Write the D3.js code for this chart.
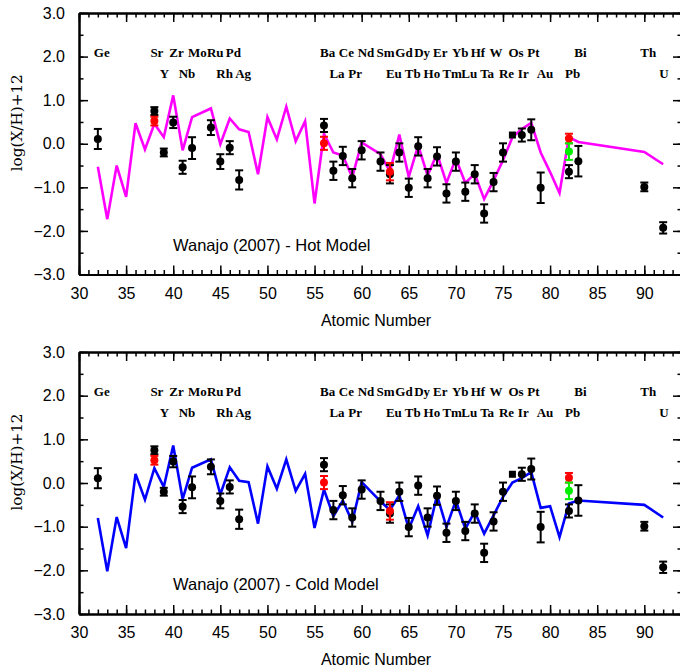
<!DOCTYPE html>
<html><head><meta charset="utf-8">
<script src="https://cdn.jsdelivr.net/npm/d3@7/dist/d3.min.js"></script>
<style>
body{margin:0;background:#fff;}
svg{display:block;}
.tick line{stroke:#000;stroke-width:1.5;}
.domain{stroke:#000;stroke-width:2;}
</style>
</head><body>
<svg id="chart" width="680" height="671"></svg>
<script>
// ---- Data ----
// element labels
const row1Z = [32,38,40,42,44,46,56,58,60,62,64,66,68,70,72,74,76,78,83,90];
const row1Sym = ["Ge","Sr","Zr","Mo","Ru","Pd","Ba","Ce","Nd","Sm","Gd","Dy","Er","Yb","Hf","W","Os","Pt","Bi","Th"];
const row2Z = [39,41,45,47,57,59,63,65,67,69,71,73,75,77,79,82,92];
const row2Sym = ["Y","Nb","Rh","Ag","La","Pr","Eu","Tb","Ho","Tm","Lu","Ta","Re","Ir","Au","Pb","U"];

// observed abundances (black)
const obsZ   = [32,38,39,40,41,42,44,45,46,47,56,57,58,59,60,62,63,64,65,66,67,68,69,70,71,72,73,74,75,77,78,79,82,83,90,92];
const obsVal = [0.11,0.75,-0.20,0.49,-0.54,-0.10,0.37,-0.41,-0.09,-0.83,0.42,-0.62,-0.28,-0.79,-0.15,-0.41,-0.70,-0.20,-1.01,-0.06,-0.79,-0.29,-1.14,-0.41,-1.10,-0.70,-1.60,-0.88,-0.20,0.20,0.32,-1.01,-0.64,-0.40,-0.99,-1.93];
const obsErr = [0.23,0.09,0.09,0.13,0.15,0.25,0.17,0.17,0.15,0.22,0.15,0.21,0.21,0.21,0.21,0.21,0.21,0.21,0.21,0.21,0.21,0.21,0.21,0.21,0.21,0.21,0.21,0.21,0.21,0.15,0.24,0.35,0.15,0.35,0.1,0.13];
// alternative determinations (red)
const redZ   = [38,56,63,82];
const redVal = [0.52,0.01,-0.64,0.12];
const redErr = [0.1,0.15,0.2,0.11];
// green
const greenZ   = [82];
const greenVal = [-0.18];
const greenErr = [0.19];
// square marker (Os)
const sqZ   = [76];
const sqVal = [0.20];

// Wanajo (2007) models
const hotZ   = [32,33,34,35,36,37,38,39,40,41,42,44,45,46,47,48,49,50,51,52,53,54,55,56,57,58,59,60,62,63,64,65,66,67,68,69,70,71,72,73,74,75,76,77,78,79,80,81,82,83,90,92];
const hotVal = [-0.53,-1.73,-0.50,-1.22,0.47,-0.13,0.46,0.15,1.11,-0.15,0.61,0.81,-0.01,0.58,0.33,0.27,-0.70,0.61,0.10,0.85,0.06,0.52,-1.37,0.23,-0.20,-0.27,-0.77,0.03,-0.24,-0.64,0.21,-0.76,-0.04,-0.73,-0.23,-0.90,-0.34,-0.90,-0.69,-1.27,-0.84,-0.38,0.15,0.34,0.48,-0.20,-0.65,-1.13,0.15,0.04,-0.19,-0.47];
const coldZ   = [32,33,34,35,36,37,38,39,40,41,42,44,45,46,47,48,49,50,51,52,53,54,55,56,57,58,59,60,62,63,64,65,66,67,68,69,70,71,72,73,74,75,76,77,78,79,80,81,82,83,90,92];
const coldVal = [-0.80,-2.02,-0.78,-1.49,0.21,-0.38,0.34,-0.09,0.86,-0.37,0.35,0.54,-0.26,0.36,0.05,0.02,-0.93,0.38,-0.13,0.54,-0.18,0.21,-1.03,-0.15,-0.76,-0.40,-0.89,0.02,-0.42,-0.62,-0.28,-1.05,-0.53,-1.20,-0.28,-1.01,-0.40,-1.05,-0.66,-1.16,-0.74,-0.32,0.01,0.11,0.25,-0.57,-0.53,-1.24,-0.47,-0.40,-0.50,-0.79];

const xTicksMajor = [30,35,40,45,50,55,60,65,70,75,80,85,90];
const yTicksMajor = [-3,-2,-1,0,1,2,3];

// ---- Drawing ----
const svg = d3.select("#chart");
const x = d3.scaleLinear().domain([30,94]).range([79,682]);

const panels = [
  {top:13, bottom:274.5, modelZ:hotZ, modelVal:hotVal, color:"#ff00ff", title:"Wanajo (2007) - Hot Model"},
  {top:352, bottom:614, modelZ:coldZ, modelVal:coldVal, color:"#0000ff", title:"Wanajo (2007) - Cold Model"}
];

const MAJ = 9, MIN = 4.5;
const sans = "'Liberation Sans', Arial, Helvetica, sans-serif";

panels.forEach(p => {
  const g = svg.append("g");
  const y = d3.scaleLinear().domain([-3,3]).range([p.bottom, p.top]);
  const minorX = d3.range(30, 95, 1);
  const minorY = d3.range(-3, 3.01, 0.5);

  // bottom axis
  g.append("g").attr("transform",`translate(0,${p.bottom})`)
    .call(d3.axisBottom(x).tickValues(minorX).tickSize(-MIN).tickSizeOuter(0).tickFormat(""));
  const xb = g.append("g").attr("transform",`translate(0,${p.bottom})`)
    .call(d3.axisBottom(x).tickValues(xTicksMajor).tickSize(-MAJ).tickSizeOuter(0).tickPadding(13).tickFormat(d3.format("d")));
  xb.selectAll("text").attr("font-family",sans).attr("font-size",16).attr("fill","#000");
  // top axis
  g.append("g").attr("transform",`translate(0,${p.top})`)
    .call(d3.axisTop(x).tickValues(minorX).tickSize(-MIN).tickSizeOuter(0).tickFormat(""));
  g.append("g").attr("transform",`translate(0,${p.top})`)
    .call(d3.axisTop(x).tickValues(xTicksMajor).tickSize(-MAJ).tickSizeOuter(0).tickFormat(""));
  // left axis
  g.append("g").attr("transform",`translate(${x(30)},0)`)
    .call(d3.axisLeft(y).tickValues(minorY).tickSize(-MIN).tickSizeOuter(0).tickFormat(""));
  const yl = g.append("g").attr("transform",`translate(${x(30)},0)`)
    .call(d3.axisLeft(y).tickValues(yTicksMajor).tickSize(-MAJ).tickSizeOuter(0).tickPadding(14).tickFormat(d3.format(".1f")));
  yl.selectAll("text").attr("font-family",sans).attr("font-size",16).attr("fill","#000");
  // right axis
  g.append("g").attr("transform",`translate(${x(94)},0)`)
    .call(d3.axisRight(y).tickValues(minorY).tickSize(-MIN).tickSizeOuter(0).tickFormat(""));
  g.append("g").attr("transform",`translate(${x(94)},0)`)
    .call(d3.axisRight(y).tickValues(yTicksMajor).tickSize(-MAJ).tickSizeOuter(0).tickFormat(""));

  // axis titles
  g.append("text").attr("x",376).attr("y",p.bottom+51).attr("text-anchor","middle")
    .attr("font-family",sans).attr("font-size",16).text("Atomic Number");
  const yc = (p.top+p.bottom)/2 - 21;
  g.append("text").attr("transform",`translate(22,${yc}) rotate(-90)`).attr("text-anchor","middle")
    .attr("font-family","'DejaVu Serif', serif").attr("font-size",14)
    .attr("textLength",97).attr("lengthAdjust","spacingAndGlyphs")
    .text("log(X/H)+12");

  // element labels
  const lab = g.append("g").attr("font-family","'Liberation Serif', 'Times New Roman', serif")
    .attr("font-weight","bold").attr("font-size",13);
  row1Z.forEach((z,i)=>lab.append("text").attr("x",x(z)-4).attr("y",p.top+43.5).text(row1Sym[i]));
  row2Z.forEach((z,i)=>lab.append("text").attr("x",x(z)-4).attr("y",p.top+65).text(row2Sym[i]));

  // model title
  g.append("text").attr("x",173).attr("y",p.top+238).attr("font-family",sans)
    .attr("font-size",16.5).text(p.title);

  // model line
  g.append("path").datum(d3.zip(p.modelZ,p.modelVal))
    .attr("fill","none").attr("stroke",p.color).attr("stroke-width",2.6).attr("stroke-linejoin","miter")
    .attr("d", d3.line().x(d=>x(d[0])).y(d=>y(d[1])));

  // observations
  function errPts(zs, vs, es, col){
    const gg = g.append("g");
    zs.forEach((z,i)=>{
      const cx = x(z), v = vs[i], e = es[i];
      const y1 = y(v+e), y2 = y(v-e);
      gg.append("line").attr("x1",cx).attr("x2",cx).attr("y1",y1).attr("y2",y2).attr("stroke",col).attr("stroke-width",2);
      gg.append("line").attr("x1",cx-4).attr("x2",cx+4).attr("y1",y1).attr("y2",y1).attr("stroke",col).attr("stroke-width",2);
      gg.append("line").attr("x1",cx-4).attr("x2",cx+4).attr("y1",y2).attr("y2",y2).attr("stroke",col).attr("stroke-width",2);
      gg.append("circle").attr("cx",cx).attr("cy",y(v)).attr("r",4).attr("fill",col);
    });
  }
  errPts(obsZ, obsVal, obsErr, "#000");
  errPts(redZ, redVal, redErr, "#ff0000");
  errPts(greenZ, greenVal, greenErr, "#00ee00");
  sqZ.forEach((z,i)=>g.append("rect").attr("x",x(z)-3.5).attr("y",y(sqVal[i])-3.5)
     .attr("width",7).attr("height",7).attr("fill","#000"));
});
</script>
</body></html>
